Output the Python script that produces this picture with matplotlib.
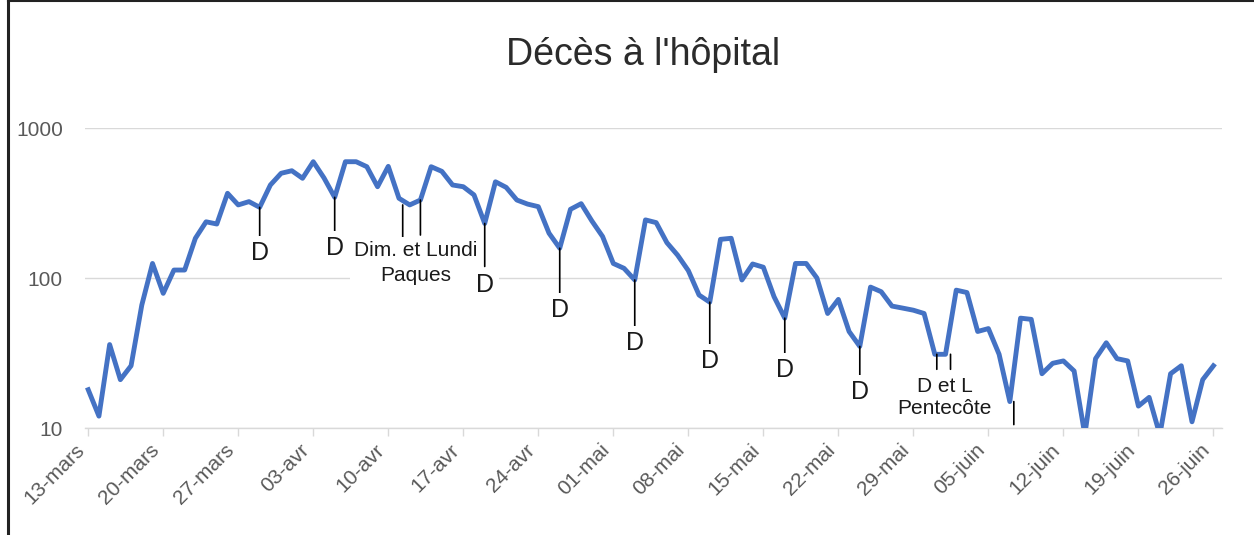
import numpy as np
import matplotlib
matplotlib.use("Agg")
import matplotlib.pyplot as plt
import matplotlib.transforms as transforms
from matplotlib.lines import Line2D
from matplotlib.ticker import NullLocator

plt.rcParams['font.family'] = ['Liberation Sans', 'DejaVu Sans']

# Daily hospital deaths, one value per day from 13 March to 26 June
deaths = [18, 12, 36, 21, 26, 66, 125, 79, 113, 113,
          184, 237, 229, 367, 307, 323, 296, 417, 499, 519,
          462, 596, 465, 345, 596, 596, 552, 406, 555, 340,
          307, 331, 552, 514, 417, 406, 358, 231, 438, 402,
          331, 311, 299, 199, 158, 287, 313, 240, 189, 125,
          116, 97, 244, 234, 172, 142, 112, 77, 69, 181,
          184, 97, 124, 118, 75, 54, 125, 125, 100, 58,
          72, 44, 35, 87, 81, 65, 63, 61, 58, 31,
          31, 83, 80, 44, 46, 31, 15, 54, 53, 23,
          27, 28, 24, 9, 29, 37, 29, 28, 14, 16,
          9, 23, 26, 11, 21, 26]

tick_days = list(range(0, 106, 7))
tick_labels = ['13-mars', '20-mars', '27-mars', '03-avr', '10-avr', '17-avr',
               '24-avr', '01-mai', '08-mai', '15-mai', '22-mai', '29-mai',
               '05-juin', '12-juin', '19-juin', '26-juin']

# Sundays flagged on the curve: day index, label
sunday_marks = [(16, 'D'), (23, 'D'), (37, 'D'), (44, 'D'),
                (51, 'D'), (58, 'D'), (65, 'D'), (72, 'D')]
easter_days = [30, 31]
pentecost_days = [79, 80]
june_mark = 86

W, H = 1254, 535
fig = plt.figure(figsize=(W / 100, H / 100), dpi=100)
ax = fig.add_axes([85 / W, 107 / H, (1222 - 85) / W, 300 / H])

days = np.arange(len(deaths))
ax.plot(days, deaths, color='#4472C4', lw=3.5, solid_joinstyle='round', zorder=3)

ax.set_yscale('log')
ax.set_ylim(10, 1000)
ax.set_xlim(-0.3, 105.8)
ax.set_yticks([10, 100, 1000])
ax.set_yticklabels(['10', '100', '1000'])
ax.yaxis.set_minor_locator(NullLocator())
ax.set_xticks(tick_days)
ax.set_xticklabels(tick_labels, rotation=45, ha='right')

ax.grid(axis='y', color='#d9d9d9', lw=1.0, zorder=0)
ax.set_axisbelow(True)
for side in ['left', 'right', 'top']:
    ax.spines[side].set_visible(False)
ax.spines['bottom'].set_color('#d9d9d9')
ax.spines['bottom'].set_linewidth(1.0)
ax.tick_params(axis='y', length=0, labelsize=15, labelcolor='#595959', pad=16)
ax.tick_params(axis='x', length=6, width=1, color='#d9d9d9', labelsize=15,
               labelcolor='#595959', pad=3)


def drop_line(day, length, dx=0):
    # short black stem hanging straight below a point of the curve
    tr = transforms.offset_copy(ax.transData, fig=fig, x=dx, y=0, units='dots')
    ax.annotate('', xy=(day, deaths[day]), xycoords=tr, xytext=(0, -length),
                textcoords='offset pixels',
                arrowprops=dict(arrowstyle='-', color='black', lw=1.2,
                                shrinkA=0, shrinkB=0),
                annotation_clip=False, zorder=4)


def label(day, text, down, dx=0, size=18, ls=1.2, z=5):
    ax.annotate(text, xy=(day, deaths[day]), xytext=(dx, -down),
                textcoords='offset pixels', ha='center', va='center',
                fontsize=size, color='#1a1a1a', linespacing=ls,
                bbox=dict(boxstyle='square,pad=0.2', fc='white', ec='none'),
                zorder=z)


# Easter Sunday and Monday
drop_line(easter_days[0], 33, dx=-7)
drop_line(easter_days[1], 35)
label(easter_days[0], 'Dim. et Lundi\nPaques', 58, dx=6, size=15, ls=1.35)

stem = {16: 31, 23: 36, 37: 43, 44: 45, 51: 47, 58: 44, 65: 35, 72: 29}
text_drop = {16: 46, 23: 51, 37: 62, 44: 62, 51: 63, 58: 59, 65: 52, 72: 46}
for d, txt in sunday_marks:
    drop_line(d, stem[d])
    label(d, txt, text_drop[d], z=6)

# Whit Sunday and Monday
drop_line(pentecost_days[0], 15, dx=2)
drop_line(pentecost_days[1], 15, dx=5)
label(pentecost_days[0], 'D et L\nPentecôte', 43, dx=10, size=15, ls=1.2)

drop_line(june_mark, 23, dx=4)

fig.text(643 / W, 1 - 55 / H, "Décès à l'hôpital", ha='center', va='center',
         fontsize=27, color='#2b2b2b')

# outer border of the chart
fig.add_artist(Line2D([8 / W, 8 / W], [0, 1], color='#222222', lw=2.2))
fig.add_artist(Line2D([8 / W, 1], [1 - 1 / H, 1 - 1 / H], color='#222222', lw=1.5))

fig.savefig('out.png', dpi=100)
